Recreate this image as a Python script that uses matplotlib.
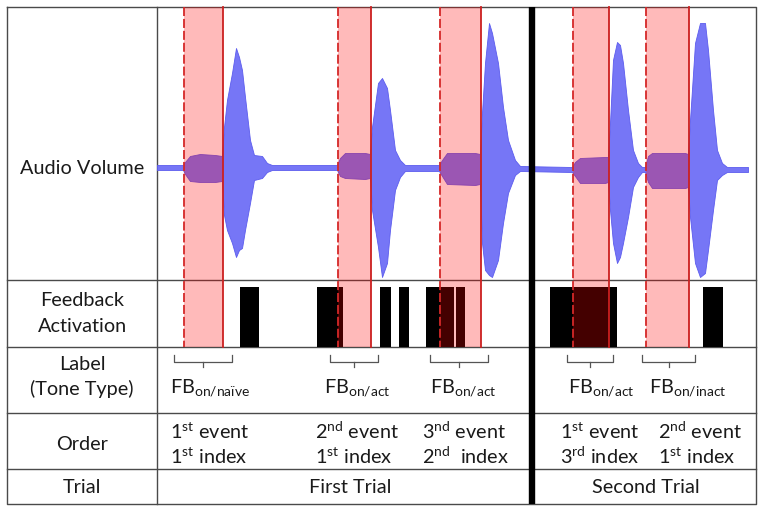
import matplotlib
matplotlib.use("Agg")
import matplotlib.pyplot as plt

plt.rcParams['font.family'] = ['Lato', 'DejaVu Sans']
plt.rcParams['mathtext.fontset'] = 'custom'
plt.rcParams['mathtext.rm'] = 'Lato'

# ---------------- data (diagram coordinates) ----------------
# audio envelope: x position, upper edge, lower edge
env_x = [157, 183, 185, 190, 200, 215, 222, 224, 227, 232, 236, 239, 242, 245, 250, 254, 262, 267, 272,
         337, 340, 345, 365, 370, 372, 378, 382, 387, 390, 395, 400, 405,
         439, 442, 447, 475, 480, 482, 485, 489, 492, 498, 503, 508, 515, 520,
         572, 575, 580, 605, 608, 610, 613, 617, 620, 623, 628, 633, 638, 642,
         645, 648, 652, 685, 688, 690, 695, 700, 705, 708, 713, 717, 722, 727, 748]
env_top = [165, 165, 162, 156, 154, 155, 156, 127, 100, 73, 48, 57, 70, 97, 140, 155, 156, 163, 165,
           165, 158, 153, 153, 154, 127, 83, 78, 88, 110, 150, 160, 165,
           165, 160, 153, 153, 154, 113, 63, 23, 33, 63, 107, 140, 160, 166,
           167, 162, 158, 157, 157, 123, 60, 42, 45, 63, 110, 150, 163, 167,
           167, 156, 153, 153, 154, 120, 43, 23, 23, 50, 110, 150, 163, 167, 167]
env_bot = [170, 170, 174, 181, 182, 182, 181, 215, 230, 243, 257, 250, 248, 230, 203, 180, 178, 172, 170,
           170, 176, 178, 179, 178, 210, 247, 277, 263, 230, 190, 177, 171,
           171, 176, 184, 185, 184, 243, 270, 275, 277, 260, 223, 193, 175, 171,
           172, 176, 183, 183, 182, 210, 243, 263, 257, 243, 217, 187, 177, 172,
           172, 182, 188, 188, 187, 217, 263, 277, 273, 250, 210, 180, 175, 172, 172]

# tone windows (feedback-on bands)
band_start = [184, 338, 440, 573, 646]
band_end = [223, 371, 481, 609, 689]

# feedback activation bars
fb_on = [240, 317, 380, 399, 426, 456, 550, 703]
fb_off = [259, 343, 391, 409, 454, 465, 617, 723]

# label row
bracket_l = [174, 330, 430, 567, 642]
bracket_r = [232, 378, 488, 613, 695]
tone_labels = ['on/naïve', 'on/act', 'on/act', 'on/act', 'on/inact']
tone_label_x = [170, 324, 430, 568, 649]

# order row
order_x = [170, 315, 422, 560, 658]
order_event = [('1', 'st', ' event'), ('2', 'nd', ' event'), ('3', 'nd', ' event'),
               ('1', 'st', ' event'), ('2', 'nd', ' event')]
order_index = [('1', 'st', ' index'), ('1', 'st', ' index'), ('2', 'nd', '  index'),
               ('3', 'rd', ' index'), ('1', 'st', ' index')]

row_names = ['Audio Volume', 'Feedback\nActivation', 'Label\n(Tone Type)', 'Order', 'Trial']
trial_names = ['First Trial', 'Second Trial']

# ---------------- layout ----------------
L, R, T, B = 7, 756, 7, 504
COL = 157
ROWS = [280, 347, 413, 469]
SPLIT = 531.5

fig = plt.figure(figsize=(7.62, 5.11), dpi=100)
ax = fig.add_axes([0, 0, 1, 1])
ax.set_xlim(0, 762)
ax.set_ylim(511, 0)
ax.axis('off')

gc = '#4a4a4a'
# grid
ax.plot([L, R, R, L, L], [T, T, B, B, T], color=gc, lw=1.0, zorder=2)
ax.plot([COL, COL], [T, B], color=gc, lw=1.0, zorder=2)
for y in ROWS:
    ax.plot([L, R], [y, y], color=gc, lw=1.0, zorder=2)

# waveform
ax.fill_between(env_x, env_top, env_bot, color='#7676f6', lw=0.6, edgecolor='#5c5cee', zorder=3)

# feedback bars
for a, b in zip(fb_on, fb_off):
    ax.fill_between([a, b], 287, ROWS[1], color='black', lw=0, zorder=3)

# bands
for a, b in zip(band_start, band_end):
    ax.fill_between([a, b], T, ROWS[1], color='red', alpha=0.27, lw=0, zorder=4)
    ax.plot([a, a], [T, ROWS[1]], color='#d42828', lw=1.3, ls=(0, (5, 1.6)), zorder=5)
    ax.plot([b, b], [T, ROWS[1]], color='#cc2020', lw=1.3, zorder=5)

# thick separator
ax.plot([SPLIT, SPLIT], [T, B], color='black', lw=4.6, zorder=6, solid_capstyle='butt')

# brackets
bc = '#555555'
for a, b in zip(bracket_l, bracket_r):
    m = (a + b) / 2
    ax.plot([a, a, b, b], [355, 362, 362, 355], color=bc, lw=0.9, zorder=3)
    ax.plot([m, m], [362, 367], color=bc, lw=0.9, zorder=3)

fs = 14.3
tc = '#1a1a1a'
for x, sub in zip(tone_label_x, tone_labels):
    ax.text(x, 393, r'FB$_{\mathregular{%s}}$' % sub, fontsize=fs, color=tc,
            ha='left', va='baseline')

for x, ev, ix in zip(order_x, order_event, order_index):
    ax.text(x, 439, r'%s$^{\mathregular{%s}}$%s' % ev, fontsize=fs, color=tc, ha='left', va='baseline')
    ax.text(x, 464, r'%s$^{\mathregular{%s}}$%s' % ix, fontsize=fs, color=tc, ha='left', va='baseline')

# row names
lab_x = 82
ax.text(lab_x, 174, row_names[0], fontsize=fs, color=tc, ha='center', va='baseline')
ax.text(lab_x, 306, 'Feedback', fontsize=fs, color=tc, ha='center', va='baseline')
ax.text(lab_x, 332, 'Activation', fontsize=fs, color=tc, ha='center', va='baseline')
ax.text(lab_x, 370, 'Label', fontsize=fs, color=tc, ha='center', va='baseline')
ax.text(lab_x, 395, '(Tone Type)', fontsize=fs, color=tc, ha='center', va='baseline')
ax.text(lab_x, 450, row_names[3], fontsize=fs, color=tc, ha='center', va='baseline')
ax.text(lab_x, 493, row_names[4], fontsize=fs, color=tc, ha='center', va='baseline')

ax.text(350, 493, trial_names[0], fontsize=fs, color=tc, ha='center', va='baseline')
ax.text(646, 493, trial_names[1], fontsize=fs, color=tc, ha='center', va='baseline')

fig.savefig('out.png', dpi=100, facecolor='white')
